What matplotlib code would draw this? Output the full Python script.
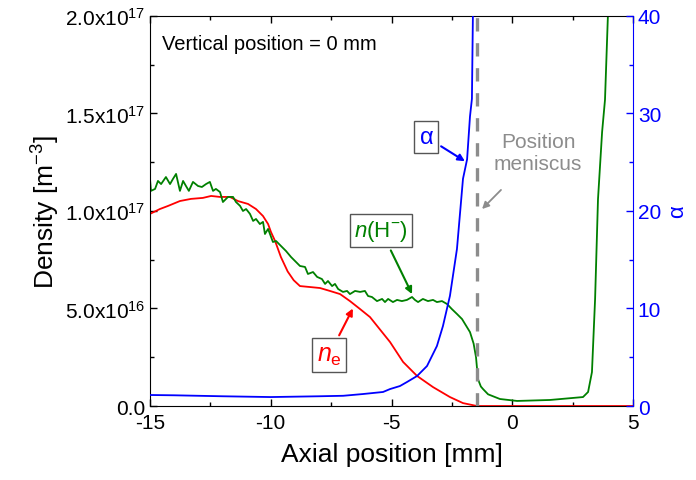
import matplotlib
matplotlib.use("Agg")
import matplotlib.pyplot as plt
from matplotlib.ticker import MultipleLocator, FuncFormatter

plt.rcParams['font.family'] = ['Liberation Sans', 'DejaVu Sans']
plt.rcParams['mathtext.fontset'] = 'custom'
plt.rcParams['mathtext.rm'] = 'Liberation Sans'
plt.rcParams['mathtext.it'] = 'Liberation Sans:italic'
plt.rcParams['mathtext.default'] = 'regular'
plt.rcParams['axes.unicode_minus'] = False

# electron density n_e, units of 1e16 m^-3
ne_x = [-15.0, -14.59, -14.25, -13.76, -13.30, -12.81, -12.47, -12.10, -11.69, -11.36,
        -10.94, -10.61, -10.32, -10.11, -9.99, -9.82, -9.70, -9.58, -9.30, -9.05,
        -8.79, -8.37, -7.96, -7.55, -7.13, -6.72, -6.30, -5.89, -5.06, -4.52,
        -3.94, -3.28, -2.58, -2.04, -1.46, 5.0]
ne_y = [9.85, 10.10, 10.26, 10.51, 10.62, 10.67, 10.77, 10.72, 10.72, 10.51,
        10.36, 10.10, 9.74, 9.33, 8.92, 8.46, 8.05, 7.64, 6.90, 6.45,
        6.15, 6.10, 6.05, 5.90, 5.74, 5.38, 4.97, 4.56, 3.28, 2.26,
        1.54, 0.97, 0.46, 0.15, 0.0, 0.0]

# negative ion density n(H-), units of 1e16 m^-3
nh_x = [-15.0, -14.96, -14.79, -14.67, -14.54, -14.34, -14.17, -14.05, -13.92, -13.76,
        -13.63, -13.51, -13.39, -13.22, -13.01, -12.85, -12.68, -12.52, -12.39, -12.27,
        -12.10, -11.98, -11.77, -11.56, -11.44, -11.27, -11.15, -11.02, -10.86, -10.73,
        -10.61, -10.45, -10.32, -10.24, -10.11, -9.91, -9.78, -9.58, -9.37, -9.16,
        -8.79, -8.58, -8.46, -8.25, -8.08, -7.88, -7.75, -7.63, -7.46, -7.34,
        -7.21, -7.01, -6.84, -6.72, -6.51, -6.30, -6.10, -5.97, -5.81, -5.60,
        -5.39, -5.27, -5.14, -4.94, -4.77, -4.57, -4.36, -4.15, -4.03, -3.90,
        -3.70, -3.49, -3.28, -3.12, -2.91, -2.70, -2.50, -2.29, -2.08, -1.75,
        -1.60, -1.50, -1.42, -1.30, -1.21, -1.0, -0.51, 0.20, 1.56, 2.93,
        3.14, 3.30, 3.43, 3.55, 3.72, 3.84, 3.96, 4.10]
nh_y = [11.64, 11.03, 11.13, 11.54, 11.38, 11.74, 11.38, 11.64, 11.90, 11.03,
        11.54, 11.28, 11.03, 11.49, 11.28, 11.23, 11.38, 11.49, 11.03, 11.13,
        10.97, 10.46, 10.72, 10.72, 10.46, 10.26, 10.00, 10.10, 9.85, 9.49,
        9.59, 9.33, 9.44, 8.82, 9.08, 8.41, 8.46, 8.21, 7.95, 7.64,
        7.18, 7.13, 6.77, 6.87, 6.62, 6.51, 6.26, 6.41, 6.15, 6.26,
        6.00, 5.85, 5.90, 5.74, 5.90, 5.85, 5.90, 5.64, 5.59, 5.38,
        5.49, 5.33, 5.49, 5.33, 5.44, 5.38, 5.44, 5.59, 5.44, 5.33,
        5.49, 5.38, 5.44, 5.33, 5.38, 5.23, 4.97, 4.72, 4.46, 3.79,
        3.20, 2.50, 1.38, 1.00, 0.87, 0.60, 0.36, 0.26, 0.31, 0.46,
        0.72, 1.74, 5.49, 10.6, 14.05, 15.7, 20.0, 26.0]

# alpha (right axis)
al_x = [-15.0, -14.0, -12.0, -10.0, -8.0, -7.0, -6.18, -5.35, -5.06, -4.65,
        -4.36, -3.94, -3.53, -3.12, -2.87, -2.58, -2.29, -2.04, -1.87, -1.75,
        -1.67, -1.63, -1.58]
al_y = [1.13, 1.10, 1.00, 0.92, 1.00, 1.05, 1.23, 1.44, 1.74, 2.05,
        2.46, 3.08, 4.10, 6.15, 8.20, 11.3, 16.1, 23.3, 25.3, 29.7,
        31.5, 40.0, 44.0]

meniscus_x = -1.46

fig = plt.figure(figsize=(6.96, 4.81), dpi=100)
ax = fig.add_axes([0.2155, 0.1538, 0.694, 0.811])
ax2 = ax.twinx()

ax.plot(ne_x, [v * 1e16 for v in ne_y], color='#ff0000', lw=1.3)
ax.plot(nh_x, [v * 1e16 for v in nh_y], color='#008000', lw=1.3)
ax.axvline(meniscus_x, color='#8c8c8c', lw=2.4, ls=(0, (4, 3.5)))
ax2.plot(al_x, al_y, color='#0000ff', lw=1.3)

ax.set_xlim(-15, 5)
ax.set_ylim(0, 2e17)
ax2.set_ylim(0, 40)

ax.xaxis.set_major_locator(MultipleLocator(5))
ax.xaxis.set_minor_locator(MultipleLocator(2.5))
ax.yaxis.set_major_locator(MultipleLocator(5e16))
ax.yaxis.set_minor_locator(MultipleLocator(2.5e16))
ax2.yaxis.set_major_locator(MultipleLocator(10))
ax2.yaxis.set_minor_locator(MultipleLocator(5))


def sci(v, pos):
    if v == 0:
        return '0.0'
    e = len(str(int(v))) - 1
    return '%.1fx10$^{%d}$' % (v / 10 ** e, e)


ax.yaxis.set_major_formatter(FuncFormatter(sci))

ax.tick_params(which='both', direction='in', top=True, right=False, labelsize=15)
ax.tick_params(which='major', length=5, width=1)
ax.tick_params(which='minor', length=3, width=1)
ax.tick_params(axis='x', pad=5)
ax2.tick_params(which='both', direction='in', colors='#0000ff', labelsize=15)
ax2.tick_params(which='major', length=5, width=1)
ax2.tick_params(which='minor', length=3, width=1)
ax.spines['right'].set_visible(False)
ax2.spines['right'].set_color('#0000ff')
for s in ['left', 'top', 'bottom']:
    ax2.spines[s].set_visible(False)

ax.set_xlabel('Axial position [mm]', fontsize=19, labelpad=7)
ax.set_ylabel('Density [m$^{-3}$]', fontsize=19, labelpad=2)
ax2.set_ylabel(r'$\alpha$', fontsize=16, color='#0000ff', rotation=90, labelpad=5)

ax.text(-14.5, 1.86e17, 'Vertical position = 0 mm', fontsize=14.5, va='center')

box = dict(boxstyle='square,pad=0.2', fc='white', ec='#555555', lw=1)
ax2.annotate(r'$\alpha$', xy=(-1.96, 25.1), xytext=(-3.57, 27.6), fontsize=17,
             color='#0000ff', ha='center', va='center', bbox=box,
             arrowprops=dict(arrowstyle='-|>', color='#0000ff', lw=1.5,
                             shrinkA=2, shrinkB=0, mutation_scale=10))
ax.annotate('Position\nmeniscus', xy=(-1.25, 1.01e17), xytext=(1.07, 1.30e17),
            fontsize=15, color='#8c8c8c', ha='center', va='center', linespacing=1.25,
            arrowprops=dict(arrowstyle='-|>', color='#8c8c8c', lw=1.3,
                            shrinkA=14, shrinkB=0, mutation_scale=10))
ax.annotate(r'$\mathit{n}$(H$^{-}$)', xy=(-4.15, 5.74e16), xytext=(-5.43, 9.0e16),
            fontsize=16, color='#008000', ha='center', va='center', bbox=box,
            arrowprops=dict(arrowstyle='-|>', color='#008000', lw=1.5,
                            shrinkA=2, shrinkB=0, mutation_scale=10))
ax.annotate(r'$\mathit{n}_{\mathrm{e}}$', xy=(-6.6, 5.0e16), xytext=(-7.59, 2.6e16),
            fontsize=18, color='#ff0000', ha='center', va='center', bbox=box,
            arrowprops=dict(arrowstyle='-|>', color='#ff0000', lw=1.5,
                            shrinkA=2, shrinkB=0, mutation_scale=10))

fig.savefig('out.png', dpi=100)
